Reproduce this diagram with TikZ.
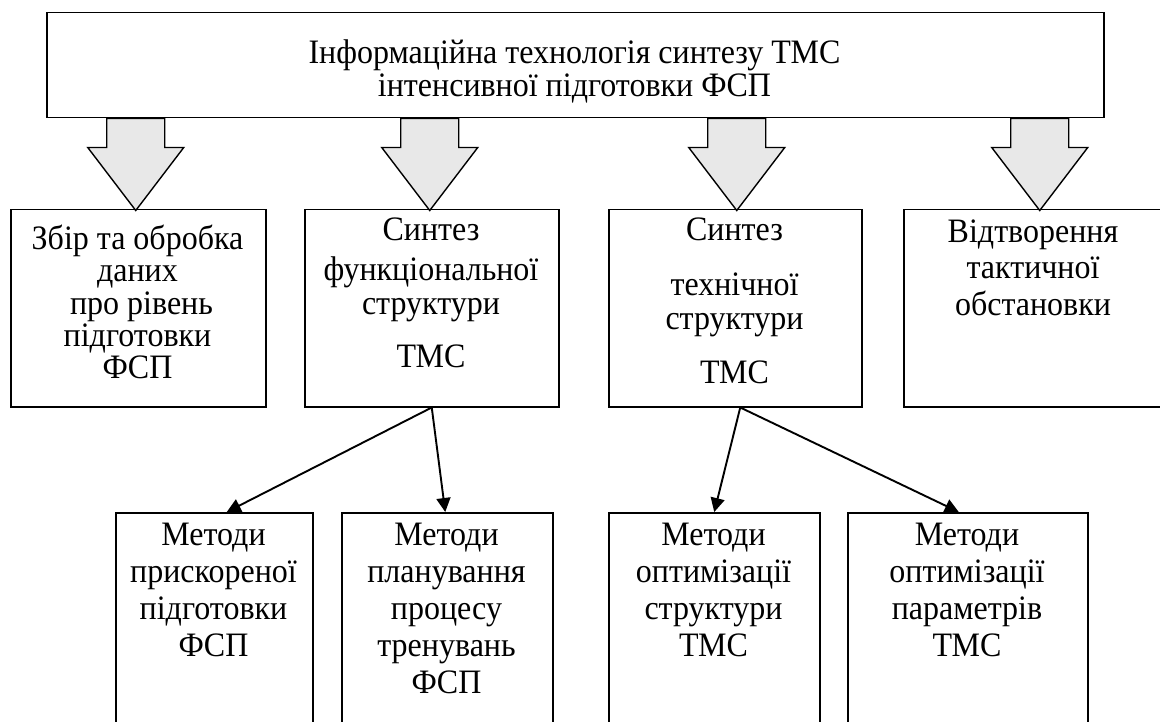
\documentclass[tikz,border=0pt]{standalone}
\usepackage{fontspec}
\setmainfont{Liberation Serif}
\usetikzlibrary{arrows.meta,calc}
\newcommand{\vs}[1]{\scalebox{1}[1.07]{#1}}
\tikzset{
  box/.style={draw, line width=1.5pt, inner sep=0pt, anchor=north west},
  txt/.style={anchor=base, inner sep=0pt, font=\fontsize{32pt}{37pt}\selectfont},
  blkline/.style={draw, line width=1.4pt, fill=black!9, line join=miter},
  conn/.style={line width=1.9pt, -{Triangle[length=14pt,width=14pt]}},
  blkarrow/.pic={\path[blkline] (-29,0) -- (29,0) -- (29,29) -- (48,29) -- (0,92) -- (-48,29) -- (-29,29) -- cycle;}
}
\begin{document}
\begin{tikzpicture}[x=1pt,y=-1pt]
\useasboundingbox (0,0) rectangle (1160,722);
\clip (0,0) rectangle (1160,722);
% boxes
\node[box, minimum width=1057pt, minimum height=105pt] (top) at (46,12) {};
\node[box, minimum width=255pt, minimum height=197pt] (b1) at (10,209) {};
\node[box, minimum width=254pt, minimum height=197pt] (b2) at (304,209) {};
\node[box, minimum width=253pt, minimum height=197pt] (b3) at (608,209) {};
\node[box, minimum width=260pt, minimum height=197pt] (b4) at (903,209) {};
\node[box, minimum width=197pt, minimum height=230pt] (b5) at (115,512) {};
\node[box, minimum width=211pt, minimum height=230pt] (b6) at (341,512) {};
\node[box, minimum width=211pt, minimum height=230pt] (b7) at (608,512) {};
\node[box, minimum width=240pt, minimum height=230pt] (b8) at (847,512) {};
% block arrows
\path ($(b1.north |- top.south)+(-2.5,0)$) pic {blkarrow};
\path ($(b2.north |- top.south)+(-2,0)$) pic {blkarrow};
\path ($(b3.north |- top.south)+(1.5,0)$) pic {blkarrow};
\path ($(b4.north |- top.south)+(6,0)$) pic {blkarrow};
% connectors
\draw[conn] (b2.south) -- ([xshift=12.5pt]b5.north);
\draw[conn] (b2.south) -- ([xshift=-2pt]b6.north);
\draw[conn] ([xshift=5pt]b3.south) -- (b7.north);
\draw[conn] ([xshift=5pt]b3.south) -- ([xshift=-9pt]b8.north);
% texts
\node[txt] (t0a) at (574.5,64) {\vs{Інформаційна технологія синтезу ТМС}};
\node[txt] (t0b) at (574.5,97) {\vs{інтенсивної підготовки ФСП}};

\node[txt] (t1a) at (137.5,250) {\vs{Збір та обробка}};
\node[txt] (t1b) at (137.5,282) {\vs{даних}};
\node[txt] (t1c) at (141.5,314) {\vs{про рівень}};
\node[txt] (t1d) at (137.5,346) {\vs{підготовки}};
\node[txt] (t1e) at (137.5,378) {\vs{ФСП}};

\node[txt] (t2a) at (431,241) {\vs{Синтез}};
\node[txt] (t2b) at (431,281) {\vs{функціональної}};
\node[txt] (t2c) at (431,315) {\vs{структури}};
\node[txt] (t2d) at (431,367) {\vs{ТМС}};

\node[txt] (t3a) at (734.5,241) {\vs{Синтез}};
\node[txt] (t3b) at (734.5,296) {\vs{технічної}};
\node[txt] (t3c) at (734.5,330) {\vs{структури}};
\node[txt] (t3d) at (734.5,383) {\vs{ТМС}};

\node[txt] (t4a) at (1033,243) {\vs{Відтворення}};
\node[txt] (t4b) at (1033,279) {\vs{тактичної}};
\node[txt] (t4c) at (1033,316) {\vs{обстановки}};

\node[txt] (t5a) at (213.5,545) {\vs{Методи}};
\node[txt] (t5b) at (213.5,582) {\vs{прискореної}};
\node[txt] (t5c) at (213.5,619) {\vs{підготовки}};
\node[txt] (t5d) at (213.5,656) {\vs{ФСП}};

\node[txt] (t6a) at (446.5,545) {\vs{Методи}};
\node[txt] (t6b) at (446.5,582) {\vs{планування}};
\node[txt] (t6c) at (446.5,619) {\vs{процесу}};
\node[txt] (t6d) at (446.5,656) {\vs{тренувань}};
\node[txt] (t6e) at (446.5,693) {\vs{ФСП}};

\node[txt] (t7a) at (713.5,545) {\vs{Методи}};
\node[txt] (t7b) at (713.5,582) {\vs{оптимізації}};
\node[txt] (t7c) at (713.5,619) {\vs{структури}};
\node[txt] (t7d) at (713.5,656) {\vs{ТМС}};

\node[txt] (t8a) at (967,545) {\vs{Методи}};
\node[txt] (t8b) at (967,582) {\vs{оптимізації}};
\node[txt] (t8c) at (967,619) {\vs{параметрів}};
\node[txt] (t8d) at (967,656) {\vs{ТМС}};
\end{tikzpicture}
\end{document}
